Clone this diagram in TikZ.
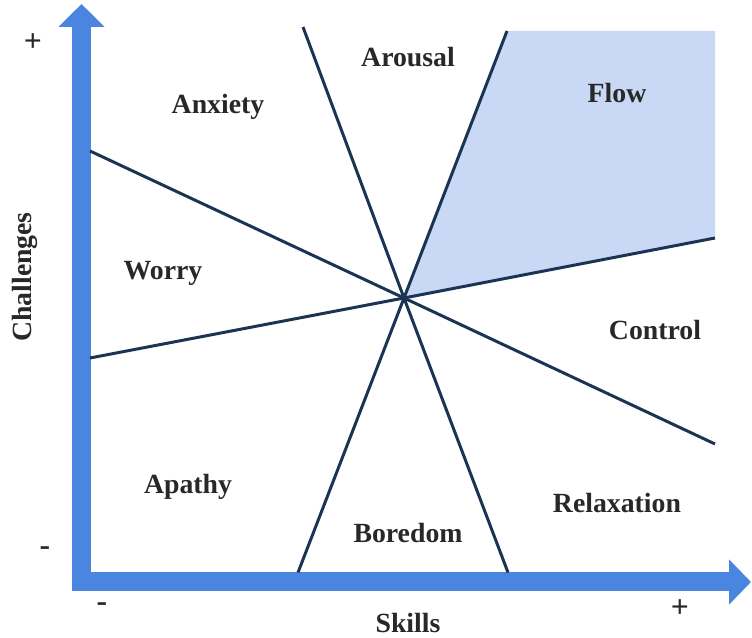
\documentclass[tikz,border=0pt]{standalone}
\usepackage{fontspec}
\setmainfont{Liberation Serif}
\usepackage{xcolor}
\usetikzlibrary{arrows.meta,positioning}
\definecolor{axisblue}{RGB}{74,134,224}
\definecolor{flowblue}{RGB}{200,216,245}
\definecolor{linenavy}{RGB}{28,52,84}
\definecolor{txtgray}{RGB}{40,40,40}
\begin{document}
\begin{tikzpicture}[
    zone/.style={font=\bfseries\fontsize{15.8pt}{19pt}\selectfont, text=txtgray},
    sign/.style={font=\bfseries\fontsize{18pt}{20pt}\selectfont, text=txtgray},
    border/.style={line width=1.7pt, draw=linenavy},
    axis/.style={line width=0.38cm, draw=axisblue, line join=miter,
        {Triangle[length=0.46cm,width=0.9cm]}-{Triangle[length=0.44cm,width=0.88cm]}}
]
    \useasboundingbox (0,0) rectangle (15.04,12.76);
    \coordinate (mid) at (8.08,6.80);

    % Flow channel
    \fill[flowblue] (10.14,12.14) -- (14.30,12.14) -- (14.30,8.00) -- (mid) -- cycle;

    % Axes
    \draw[axis] (1.63,12.68) -- (1.63,1.12) -- (15.02,1.12);

    % Borders between the zones
    \draw[border] (1.80,9.74) -- (mid) -- (14.30,3.88);
    \draw[border] (1.80,5.60) -- (mid) -- (14.30,8.00);
    \draw[border] (6.06,12.22) -- (mid) -- (10.16,1.31);
    \draw[border] (10.14,12.14) -- (mid) -- (5.96,1.31);

    % Zones
    \node[zone] (anxiety) at (4.36,10.62) {Anxiety};
    \node[zone] (arousal) at (8.16,11.62) {Arousal};
    \node[zone] (flow) at (12.34,10.90) {Flow};
    \node[zone] (worry) at (3.26,7.30) {Worry};
    \node[zone] (control) at (13.10,6.16) {Control};
    \node[zone] (apathy) at (3.76,3.02) {Apathy};
    \node[zone] (boredom) at (8.16,2.10) {Boredom};
    \node[zone] (relax) at (12.34,2.70) {Relaxation};

    % Axis labels
    \node[zone, rotate=90] (challenges) at (0.50,7.22) {Challenges};
    \node[zone] (skills) at (8.16,0.30) {Skills};
    \node[sign] (chplus) at (0.66,11.90) {+};
    \node[sign] (chminus) at (0.90,1.74) {-};
    \node[sign] (skminus) at (2.04,0.62) {-};
    \node[sign] (skplus) at (13.60,0.58) {+};
\end{tikzpicture}
\end{document}
